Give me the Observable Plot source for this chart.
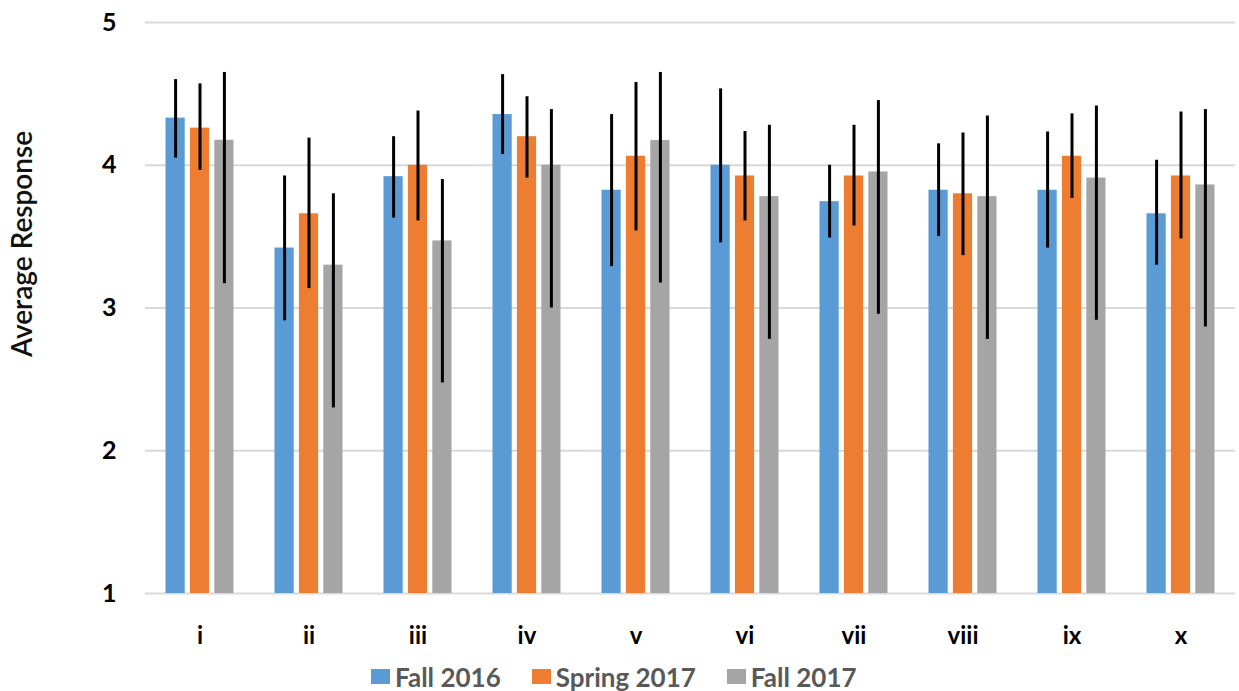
<!DOCTYPE html>
<html>
<head>
<meta charset="utf-8">
<script src="https://cdn.jsdelivr.net/npm/d3@7"></script>
<script src="https://cdn.jsdelivr.net/npm/@observablehq/plot@0.6"></script>
<style>
  body { margin: 0; background: #fff; font-family: Lato, sans-serif; }
  #chart { width: 1239px; height: 663px; }
  #legend { display: flex; justify-content: flex-start; padding-left: 371px; margin-top: -3px; }
  div.lg-swatches .lg-swatch { margin-right: 31px; }
  div.lg-swatches .lg-swatch > svg { margin-right: 5px; }
</style>
</head>
<body>
<div id="chart"></div>
<div id="legend"></div>
<script>
const groups = ['i', 'ii', 'iii', 'iv', 'v', 'vi', 'vii', 'viii', 'ix', 'x'];
const series = ['Fall 2016', 'Spring 2017', 'Fall 2017'];
const colors = ['#5B9BD5', '#ED7D31', '#A5A5A5'];

// average response per item
const fall16 = [4.33, 3.42, 3.92, 4.355, 3.825, 4.00, 3.745, 3.825, 3.825, 3.66];
const spring17 = [4.26, 3.66, 4.00, 4.20, 4.063, 3.925, 3.925, 3.80, 4.063, 3.925];
const fall17 = [4.175, 3.30, 3.47, 4.00, 4.173, 3.78, 3.953, 3.78, 3.91, 3.862];

// error bar ends
const fall16Lo = [4.05, 2.91, 3.63, 4.075, 3.29, 3.456, 3.49, 3.50, 3.42, 3.30];
const fall16Hi = [4.60, 3.925, 4.20, 4.635, 4.355, 4.535, 4.00, 4.15, 4.233, 4.035];
const spring17Lo = [3.965, 3.136, 3.61, 3.91, 3.54, 3.61, 3.575, 3.367, 3.767, 3.484];
const spring17Hi = [4.57, 4.19, 4.38, 4.48, 4.58, 4.236, 4.28, 4.226, 4.36, 4.373];
const fall17Lo = [3.17, 2.30, 2.475, 3.00, 3.175, 2.78, 2.956, 2.78, 2.914, 2.867];
const fall17Hi = [4.65, 3.80, 3.90, 4.39, 4.65, 4.28, 4.453, 4.345, 4.415, 4.39];

const yTicks = [1, 2, 3, 4, 5];

const means = [fall16, spring17, fall17];
const lows = [fall16Lo, spring17Lo, fall17Lo];
const highs = [fall16Hi, spring17Hi, fall17Hi];

const data = [];
series.forEach((s, k) => {
  groups.forEach((g, i) => {
    data.push({group: g, serie: s, k: k, value: means[k][i], lo: lows[k][i], hi: highs[k][i]});
  });
});

const barW = 19.2;
const stepW = 24.4;
const bandW = 109;

let marks = [
  Plot.gridY(yTicks, {stroke: '#d9d9d9', strokeWidth: 2, strokeOpacity: 1}),
  Plot.axisY({
    ticks: yTicks,
    tickFormat: 'd',
    tickSize: 0,
    tickPadding: 29,
    label: null,
    fontSize: 25,
    fontWeight: 700,
  }),
  Plot.axisX({
    tickSize: 0,
    tickPadding: 33,
    label: null,
    fontSize: 24,
    fontWeight: 700,
  }),
  Plot.text(['Average Response'], {
    frameAnchor: 'left',
    rotate: -90,
    textAnchor: 'middle',
    dx: -122,
    dy: -64,
    fontSize: 28,
    fontWeight: 600,
    fill: '#111',
  }),
];

series.forEach((s, k) => {
  let d = data.filter(r => r.k === k);
  marks.push(Plot.barY(d, {
    x: 'group',
    y1: 1,
    y2: 'value',
    fill: 'serie',
    insetLeft: (bandW - barW) / 2,
    insetRight: (bandW - barW) / 2,
    dx: (k - 1) * stepW,
  }));
  marks.push(Plot.ruleX(d, {
    x: 'group',
    y1: 'lo',
    y2: 'hi',
    stroke: 'black',
    strokeWidth: 3,
    dx: (k - 1) * stepW,
  }));
});

let chart = Plot.plot({
  width: 1239,
  height: 663,
  marginLeft: 145,
  marginRight: 4,
  marginTop: 22,
  marginBottom: 70,
  x: {domain: groups, padding: 0, axis: null},
  y: {domain: [1, 5], axis: null},
  color: {domain: series, range: colors},
  style: {fontFamily: 'Lato', color: '#000', background: 'white'},
  marks: marks,
});

d3.select('#chart').append(() => chart);

let legend = chart.legend('color', {
  className: 'lg',
  swatchWidth: 19,
  swatchHeight: 15,
  style: {fontSize: '26px', fontWeight: 700, color: '#595959', fontFamily: 'Lato'},
});
d3.select('#legend').append(() => legend);
</script>
</body>
</html>
